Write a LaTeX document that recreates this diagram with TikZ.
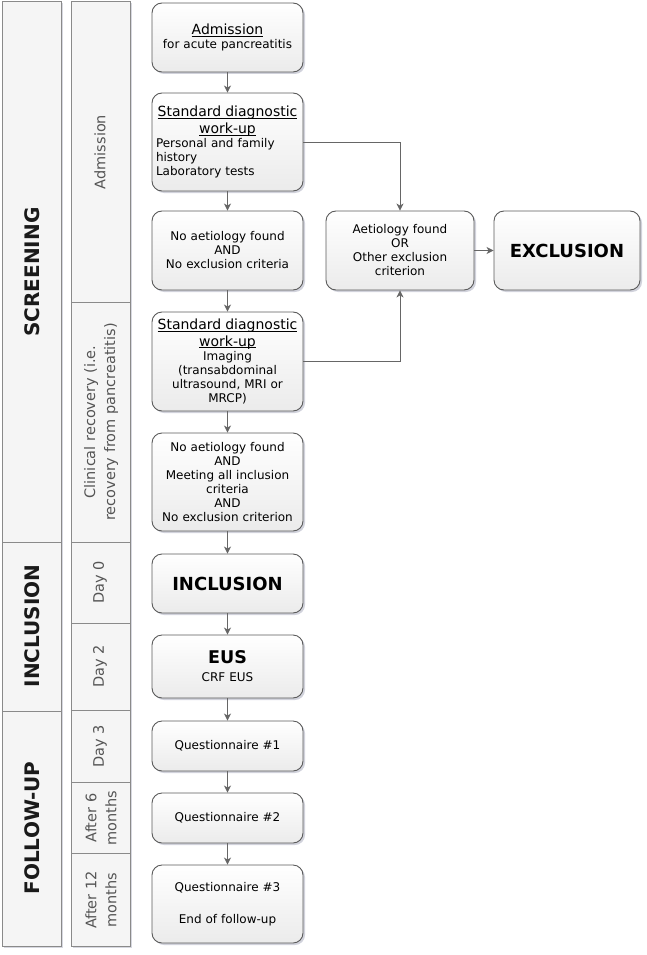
\documentclass[tikz,border=0pt]{standalone}
\usepackage{fontspec}
\setmainfont{DejaVu Sans}
\usetikzlibrary{arrows.meta,shadows}
\definecolor{boxline}{HTML}{5a5a5a}
\definecolor{boxbot}{HTML}{ebebeb}
\definecolor{colfill}{HTML}{f5f5f5}
\definecolor{colline}{HTML}{8a8a8a}
\definecolor{arrowc}{HTML}{666666}
\definecolor{lanetext}{HTML}{555555}
\definecolor{phasetext}{HTML}{1a1a1a}
\definecolor{shadowc}{HTML}{7a7f99}
\newcommand\bxfont{\fontsize{12}{14}\selectfont}
\newcommand\hdfont{\fontsize{14}{16.5}\selectfont}
\newcommand\bigboldfont{\fontsize{18}{20}\selectfont\bfseries}
\newcommand\lanefont{\fontsize{14.5}{20}\selectfont}
\newcommand\phasefont{\fontsize{20}{22}\selectfont\bfseries}
\newcommand\ulx[1]{\underline{\smash{#1}}\vphantom{#1}}
\tikzset{
  flowbox/.style={draw=boxline, line width=0.9pt, rounded corners=10pt,
    top color=white, bottom color=boxbot,
    drop shadow={shadow xshift=2pt, shadow yshift=-2pt, opacity=0.35, fill=shadowc},
    minimum width=151pt, text width=146pt, inner xsep=2.5pt, inner ysep=0pt,
    font=\bxfont, text=black},
  centerbox/.style={flowbox, align=center},
  lanebox/.style={draw=colline, line width=1pt, fill=colfill,
    drop shadow={shadow xshift=1.5pt, shadow yshift=-1.5pt, opacity=0.3, fill=shadowc}},
  lanelabel/.style={rotate=90, font=\lanefont, text=lanetext, align=center, inner sep=0pt},
  phaselabel/.style={rotate=90, font=\phasefont, text=phasetext, inner sep=0pt},
  arr/.style={draw=arrowc, line width=0.9pt, -{Stealth[length=7pt,width=7pt,inset=2pt]}}
}
\begin{document}
\begin{tikzpicture}[x=1pt,y=-1pt]
\useasboundingbox (0,0) rectangle (647,955);

% phase column
\path[lanebox] (2,2) rectangle (61,542);
\path[lanebox] (2,542) rectangle (61,711);
\path[lanebox] (2,711) rectangle (61,946);
\node[phaselabel] (pscr) at (32,272) {SCREENING};
\node[phaselabel] (pinc) at (32,626) {INCLUSION};
\node[phaselabel] (pfol) at (32,828) {FOLLOW-UP};

% time column
\path[lanebox] (71,2) rectangle (130,302);
\path[lanebox] (71,302) rectangle (130,542);
\path[lanebox] (71,542) rectangle (130,623);
\path[lanebox] (71,623) rectangle (130,710);
\path[lanebox] (71,710) rectangle (130,782);
\path[lanebox] (71,782) rectangle (130,853);
\path[lanebox] (71,853) rectangle (130,946);
\node[lanelabel] (ladm) at (100,152) {Admission};
\node[lanelabel] (lrec) at (101,422) {Clinical recovery (i.e.\\recovery from pancreatitis)};
\node[lanelabel] (ld0) at (100,582) {Day 0};
\node[lanelabel] (ld2) at (100,666) {Day 2};
\node[lanelabel] (ld3) at (100,746) {Day 3};
\node[lanelabel] (l6m) at (101,818) {After 6\\months};
\node[lanelabel] (l12m) at (101,900) {After 12\\months};

% main flow
\node[centerbox, minimum height=69pt] (adm) at (227.5,37.5)
  {{\hdfont\ulx{Admission}}\\for acute pancreatitis};
\node[flowbox, minimum height=98pt] (sd1) at (227.5,142)
  {\parindent=0pt{\hdfont\centering\ulx{Standard diagnostic}\\\ulx{work-up}\par}
   \raggedright\hspace*{1.5pt}Personal and family\\\hspace*{1.5pt}history\\\hspace*{1.5pt}Laboratory tests\par};
\node[centerbox, minimum height=79pt] (na1) at (227.5,250.5)
  {No aetiology found\\AND\\No exclusion criteria};
\node[flowbox, minimum height=99pt] (sd2) at (227.5,361.5)
  {\parindent=0pt{\hdfont\centering\ulx{Standard diagnostic}\\\ulx{work-up}\par}
   {\centering Imaging\\(transabdominal\\ultrasound, MRI or\\MRCP)\par}};
\node[centerbox, minimum height=98pt] (na2) at (227.5,482)
  {No aetiology found\\AND\\Meeting all inclusion\\criteria\\AND\\No exclusion criterion};
\node[centerbox, minimum height=59pt, font=\bigboldfont] (inc) at (227.5,583.5) {INCLUSION};
\node[centerbox, minimum height=63pt] (eus) at (227.5,666.5)
  {{\fontsize{17.5}{21}\selectfont\bfseries EUS}\\[4pt]CRF EUS};
\node[centerbox, minimum height=50pt] (q1) at (227.5,746) {Questionnaire \#1};
\node[centerbox, minimum height=50pt] (q2) at (227.5,818) {Questionnaire \#2};
\node[centerbox, minimum height=78pt] (q3) at (227.5,904)
  {Questionnaire \#3\\[18pt]End of follow-up};

% exclusion branch
\node[centerbox, minimum width=148pt, text width=143pt, minimum height=79pt] (aet) at (400,250.5)
  {Aetiology found\\OR\\Other exclusion\\criterion};
\node[centerbox, minimum width=146pt, text width=141pt, minimum height=79pt, font=\bigboldfont] (exc) at (567,250.5) {EXCLUSION};

% connectors
\draw[arr] (adm) -- (sd1);
\draw[arr] (sd1) -- (na1);
\draw[arr] (na1) -- (sd2);
\draw[arr] (sd2) -- (na2);
\draw[arr] (na2) -- (inc);
\draw[arr] (inc) -- (eus);
\draw[arr] (eus) -- (q1);
\draw[arr] (q1) -- (q2);
\draw[arr] (q2) -- (q3);
\draw[arr] (sd1.east) -| (aet.north);
\draw[arr] (sd2.east) -| (aet.south);
\draw[arr] (aet) -- (exc);
\end{tikzpicture}
\end{document}
